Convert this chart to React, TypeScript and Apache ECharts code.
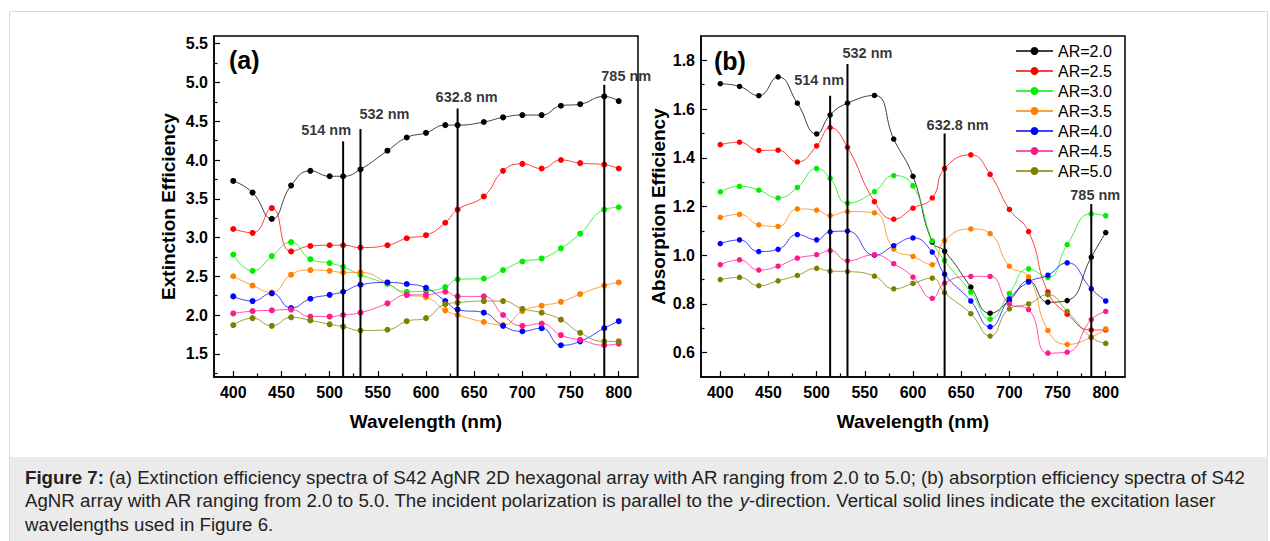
import React, { useEffect, useRef } from "react";
import * as echarts from "echarts";

const wavelengths = [400, 420, 440, 460, 480, 500, 514, 532, 560, 580, 600, 620, 632.8, 660, 680, 700, 720, 740, 760, 785, 800];
const seriesNames = ["AR=2.0", "AR=2.5", "AR=3.0", "AR=3.5", "AR=4.0", "AR=4.5", "AR=5.0"];
const seriesColors = ["#000000", "#ff0000", "#00ee00", "#ff8000", "#0000ff", "#ff1a8c", "#808000"];

// (a) Extinction efficiency
const extAR20 = [3.73, 3.58, 3.24, 3.67, 3.86, 3.79, 3.79, 3.88, 4.12, 4.29, 4.35, 4.45, 4.45, 4.49, 4.55, 4.58, 4.58, 4.70, 4.72, 4.82, 4.76];
const extAR25 = [3.11, 3.06, 3.38, 2.82, 2.89, 2.90, 2.90, 2.87, 2.90, 2.99, 3.03, 3.19, 3.36, 3.53, 3.86, 3.95, 3.89, 4.00, 3.96, 3.94, 3.89];
const extAR30 = [2.78, 2.57, 2.76, 2.94, 2.72, 2.67, 2.62, 2.52, 2.40, 2.30, 2.31, 2.36, 2.46, 2.47, 2.58, 2.69, 2.73, 2.86, 3.05, 3.36, 3.39];
const extAR35 = [2.50, 2.38, 2.29, 2.52, 2.58, 2.57, 2.55, 2.55, 2.41, 2.26, 2.23, 2.06, 2.00, 1.91, 1.87, 2.05, 2.12, 2.17, 2.27, 2.38, 2.42];
const extAR40 = [2.24, 2.18, 2.28, 2.09, 2.21, 2.26, 2.30, 2.39, 2.42, 2.40, 2.35, 2.18, 2.07, 2.03, 1.86, 1.79, 1.83, 1.61, 1.66, 1.83, 1.92];
const extAR45 = [2.02, 2.05, 2.06, 2.07, 1.98, 1.98, 2.00, 2.03, 2.15, 2.26, 2.26, 2.30, 2.24, 2.24, 2.00, 1.86, 1.89, 1.74, 1.68, 1.61, 1.63];
const extAR50 = [1.87, 1.96, 1.86, 1.97, 1.93, 1.88, 1.85, 1.80, 1.81, 1.92, 1.96, 2.14, 2.16, 2.18, 2.18, 2.08, 2.03, 1.94, 1.77, 1.66, 1.66];

// (b) Absorption efficiency
const absAR20 = [1.704, 1.693, 1.655, 1.732, 1.624, 1.498, 1.576, 1.624, 1.656, 1.477, 1.324, 1.054, 1.017, 0.869, 0.762, 0.815, 0.895, 0.807, 0.814, 0.992, 1.093];
const absAR25 = [1.454, 1.464, 1.43, 1.431, 1.383, 1.449, 1.524, 1.443, 1.22, 1.148, 1.193, 1.235, 1.356, 1.412, 1.332, 1.188, 1.097, 0.849, 0.758, 0.693, 0.693];
const absAR30 = [1.26, 1.283, 1.267, 1.235, 1.278, 1.356, 1.316, 1.214, 1.261, 1.327, 1.285, 1.059, 0.978, 0.849, 0.738, 0.843, 0.944, 0.909, 1.043, 1.17, 1.162];
const absAR35 = [1.155, 1.168, 1.125, 1.118, 1.19, 1.185, 1.163, 1.179, 1.174, 1.025, 0.995, 0.961, 1.06, 1.108, 1.089, 0.955, 0.911, 0.691, 0.634, 0.663, 0.698];
const absAR40 = [1.048, 1.063, 1.015, 1.024, 1.085, 1.063, 1.096, 1.099, 1.0, 1.039, 1.071, 1.013, 0.922, 0.812, 0.706, 0.821, 0.89, 0.918, 0.969, 0.862, 0.812];
const absAR45 = [0.961, 0.981, 0.939, 0.955, 0.988, 1.002, 1.019, 0.977, 1.002, 0.965, 0.91, 0.823, 0.885, 0.913, 0.913, 0.8, 0.777, 0.598, 0.602, 0.736, 0.769];
const absAR50 = [0.90, 0.909, 0.875, 0.895, 0.917, 0.946, 0.935, 0.933, 0.914, 0.862, 0.884, 0.906, 0.846, 0.76, 0.668, 0.78, 0.8, 0.838, 0.769, 0.663, 0.638];

// Laser excitation wavelengths
const laserWavelengths = [514, 532, 632.8, 785];
const laserLabels = ["514 nm", "532 nm", "632.8 nm", "785 nm"];
const laserTopsA = [4.24, 4.40, 4.665, 4.97];
const laserTopsB = [1.655, 1.785, 1.50, 1.21];

// Axis ticks
const xMajorTicks = [400, 450, 500, 550, 600, 650, 700, 750, 800];
const xMinorTicks = [425, 475, 525, 575, 625, 675, 725, 775];
const yMajorTicksA = [1.5, 2.0, 2.5, 3.0, 3.5, 4.0, 4.5, 5.0, 5.5];
const yMinorTicksA = [1.25, 1.75, 2.25, 2.75, 3.25, 3.75, 4.25, 4.75, 5.25];
const yMajorTicksB = [0.6, 0.8, 1.0, 1.2, 1.4, 1.6, 1.8];
const yMinorTicksB = [0.7, 0.9, 1.1, 1.3, 1.5, 1.7];

const extSeries = [extAR20, extAR25, extAR30, extAR35, extAR40, extAR45, extAR50];
const absSeries = [absAR20, absAR25, absAR30, absAR35, absAR40, absAR45, absAR50];

const FONT = '"Liberation Sans", Arial, sans-serif';
const CAPTION_SIZE = 18.7;
const labelOffsetsA = [[-17, 0], [24, -4], [9, 0], [22, 2.5]];
const labelOffsetsB = [[-11, -4], [20, 0], [13, 3], [4, 2.5]];

export default function App() {
  const ref = useRef<HTMLDivElement>(null);

  useEffect(() => {
    if (!ref.current) return;
    const chart = echarts.init(ref.current, null, { renderer: "svg" });

    const grids = [
      { left: 214, top: 36, width: 424, height: 341 },
      { left: 701, top: 36, width: 424, height: 341 },
    ];

    const mainX = (gridIndex: number) => ({
      type: "value",
      gridIndex,
      min: 380,
      max: 820,
      name: "Wavelength (nm)",
      nameLocation: "middle",
      nameGap: 35,
      nameTextStyle: { fontFamily: FONT, fontWeight: "bold", fontSize: 19, color: "#000" },
      axisLine: { show: true, lineStyle: { color: "#000", width: 1.5 } },
      axisTick: { show: true, inside: true, length: 6, customValues: xMajorTicks, lineStyle: { color: "#000", width: 1.2 } },
      axisLabel: {
        show: true,
        customValues: xMajorTicks,
        margin: 7,
        fontFamily: FONT,
        fontWeight: "bold",
        fontSize: 16,
        color: "#000",
        formatter: (v: number) => String(Math.round(v)),
      },
      splitLine: { show: false },
    });
    const minorX = (gridIndex: number) => ({
      type: "value",
      gridIndex,
      min: 380,
      max: 820,
      position: "bottom",
      axisLine: { show: false },
      axisTick: { show: true, inside: true, length: 3.5, customValues: xMinorTicks, lineStyle: { color: "#000", width: 1.2 } },
      axisLabel: { show: false },
      splitLine: { show: false },
    });
    const mainY = (gridIndex: number, min: number, max: number, ticks: number[], name: string, gap: number) => ({
      type: "value",
      gridIndex,
      min,
      max,
      name,
      nameLocation: "middle",
      nameGap: gap,
      nameTextStyle: { fontFamily: FONT, fontWeight: "bold", fontSize: 19, color: "#000" },
      axisLine: { show: true, lineStyle: { color: "#000", width: 1.5 } },
      axisTick: { show: true, inside: true, length: 6, customValues: ticks, lineStyle: { color: "#000", width: 1.2 } },
      axisLabel: {
        show: true,
        customValues: ticks,
        margin: 6,
        fontFamily: FONT,
        fontWeight: "bold",
        fontSize: 16,
        color: "#000",
        formatter: (v: number) => v.toFixed(1),
      },
      splitLine: { show: false },
    });
    const minorY = (gridIndex: number, min: number, max: number, ticks: number[]) => ({
      type: "value",
      gridIndex,
      min,
      max,
      position: "left",
      axisLine: { show: false },
      axisTick: { show: true, inside: true, length: 3.5, customValues: ticks, lineStyle: { color: "#000", width: 1.2 } },
      axisLabel: { show: false },
      splitLine: { show: false },
    });

    const dataSeries = (panel: number, arrays: number[][], symbolSize: number) =>
      arrays.map((arr, i) => ({
        type: "line",
        name: seriesNames[i],
        xAxisIndex: panel * 2,
        yAxisIndex: panel * 2,
        data: wavelengths.map((w, j) => [w, arr[j]]),
        smooth: 0.5,
        symbol: "circle",
        symbolSize,
        showSymbol: true,
        color: seriesColors[i],
        itemStyle: { color: seriesColors[i], borderWidth: 0 },
        lineStyle: { color: seriesColors[i], width: 1, opacity: 0.75 },
        z: 3,
      }));

    const laserLines = (panel: number, tops: number[], bottom: number) =>
      laserWavelengths.map((w, i) => ({
        type: "line",
        name: "laser-" + panel + "-" + i,
        xAxisIndex: panel * 2,
        yAxisIndex: panel * 2,
        data: [
          [w, bottom],
          [w, tops[i]],
        ],
        symbol: "none",
        silent: true,
        lineStyle: { color: "#000", width: 2 },
        z: 4,
      }));

    const laserLabelSeries = (panel: number, tops: number[], offsets: number[][]) => ({
      type: "scatter",
      name: "laser-labels-" + panel,
      xAxisIndex: panel * 2,
      yAxisIndex: panel * 2,
      symbolSize: 0,
      silent: true,
      data: laserWavelengths.map((w, i) => ({
        value: [w, tops[i]],
        label: { offset: offsets[i] },
      })),
      label: {
        show: true,
        position: "top",
        distance: 4,
        fontFamily: FONT,
        fontWeight: "bold",
        fontSize: 14.5,
        color: "#000",
        formatter: (p: any) => laserLabels[p.dataIndex],
      },
      z: 5,
    });

    const option = {
      animation: false,
      backgroundColor: "#ffffff",
      grid: grids.map((g) => ({ ...g, show: true, borderColor: "#000", borderWidth: 1.5, backgroundColor: "transparent" })),
      xAxis: [mainX(0), minorX(0), mainX(1), minorX(1)],
      yAxis: [
        mainY(0, 1.2, 5.6, yMajorTicksA, "Extinction Efficiency", 36.5),
        minorY(0, 1.2, 5.6, yMinorTicksA),
        mainY(1, 0.5, 1.9, yMajorTicksB, "Absorption Efficiency", 33.5),
        minorY(1, 0.5, 1.9, yMinorTicksB),
      ],
      legend: {
        data: seriesNames,
        orient: "vertical",
        left: 1010,
        top: 38,
        itemWidth: 37,
        itemHeight: 10,
        itemGap: 4,
        textStyle: { fontFamily: FONT, fontSize: 16, color: "#000" },
        selectedMode: false,
      },
      graphic: [
        {
          type: "rect",
          z: -10,
          silent: true,
          shape: { x: 9.5, y: 11.5, width: 1258, height: 545 },
          style: { fill: "#ffffff", stroke: "#d9d9d9", lineWidth: 1 },
        },
        {
          type: "rect",
          z: -9,
          silent: true,
          shape: { x: 10, y: 457, width: 1257.5, height: 90 },
          style: { fill: "#ebebeb" },
        },
        {
          type: "text",
          z: 10,
          x: 229,
          y: 60,
          style: { text: "(a)", fontFamily: FONT, fontWeight: "bold", fontSize: 25, fill: "#000", verticalAlign: "middle" },
        },
        {
          type: "text",
          z: 10,
          x: 714,
          y: 60.5,
          style: { text: "(b)", fontFamily: FONT, fontWeight: "bold", fontSize: 25, fill: "#000", verticalAlign: "middle" },
        },
        {
          type: "text",
          z: 10,
          x: 25,
          y: 466,
          style: {
            text:
              "{b|Figure 7:} (a) Extinction efficiency spectra of S42 AgNR 2D hexagonal array with AR ranging from 2.0 to 5.0; (b) absorption efficiency spectra of S42\n" +
              "AgNR array with AR ranging from 2.0 to 5.0. The incident polarization is parallel to the {i|y}-direction. Vertical solid lines indicate the excitation laser\n" +
              "wavelengths used in Figure 6.",
            fontFamily: FONT,
            fontSize: CAPTION_SIZE,
            lineHeight: 23.3,
            fill: "#222222",
            rich: {
              b: { fontFamily: FONT, fontSize: CAPTION_SIZE, fontWeight: "bold", lineHeight: 23.3, fill: "#222222" },
              i: { fontFamily: FONT, fontSize: CAPTION_SIZE, fontStyle: "italic", lineHeight: 23.3, fill: "#222222" },
            },
          },
        },
      ],
      series: [
        ...dataSeries(0, extSeries, 6),
        ...dataSeries(1, absSeries, 5.5),
        ...laserLines(0, laserTopsA, 1.2),
        ...laserLines(1, laserTopsB, 0.5),
        laserLabelSeries(0, laserTopsA, labelOffsetsA),
        laserLabelSeries(1, laserTopsB, labelOffsetsB),
      ],
    };

    chart.setOption(option as any);
    return () => {
      chart.dispose();
    };
  }, []);

  return (
    <div
      ref={ref}
      style={{ position: "fixed", left: 0, top: 0, width: 1270, height: 541, background: "#fff" }}
    />
  );
}
